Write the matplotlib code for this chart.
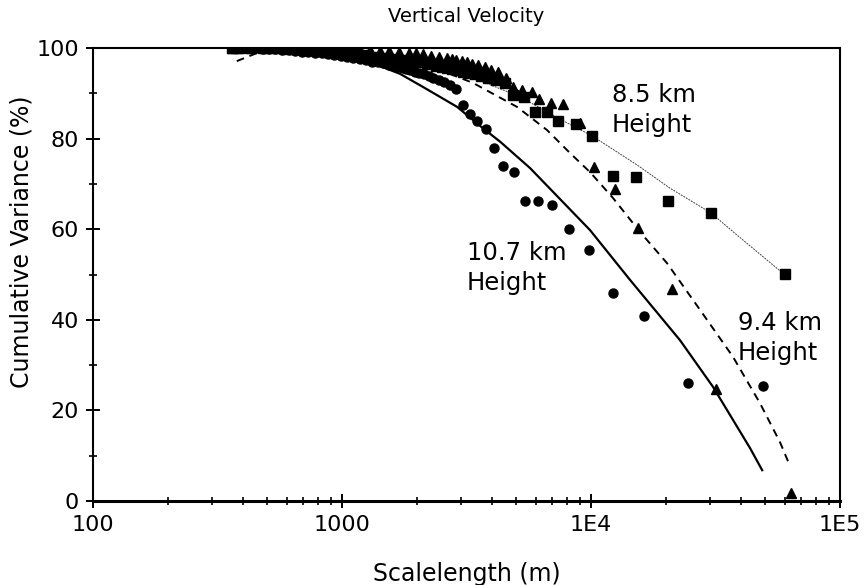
import numpy as np
import matplotlib as mpl
import matplotlib.pyplot as plt
from matplotlib.ticker import FixedLocator, NullFormatter

mpl.rcParams.update({
    "font.family": "DejaVu Sans",
    "font.size": 16,
})

# ----------------------------
# Measured cumulative variance, vertical velocity
# ----------------------------
# 10.7 km height (circles)
len_107 = [49000, 24500, 16300, 12250, 9800, 8170, 7000, 6130, 5440, 4900,
           4450, 4080, 3770, 3500, 3270, 3060, 2880, 2720, 2580, 2450,
           2330, 2230, 2130, 2040, 1960, 1880, 1810, 1750, 1690, 1630,
           1540, 1460, 1390, 1320, 1250, 1180, 1110, 1050, 990, 930,
           880, 830, 780, 730, 690, 650, 610, 575, 540, 510,
           480, 450, 425, 400, 380, 360]
var_107 = [25.4, 26.0, 40.8, 45.9, 55.4, 60.0, 65.3, 66.2, 66.2, 72.6,
           74.0, 77.9, 82.1, 83.9, 85.4, 87.4, 91.0, 91.8, 92.4, 93.0,
           93.4, 93.8, 94.2, 94.5, 94.8, 95.1, 95.4, 95.6, 95.8, 96.0,
           96.3, 96.6, 96.8, 97.0, 97.3, 97.5, 97.8, 98.0, 98.2, 98.4,
           98.6, 98.8, 98.9, 99.1, 99.2, 99.3, 99.5, 99.6, 99.7, 99.8,
           99.8, 99.9, 99.9, 100.0, 100.0, 100.0]

# 9.4 km height (triangles)
len_94 = [63500, 31800, 21100, 15500, 12500, 10300, 9000, 7700, 6900, 6200,
          5770, 5290, 4880, 4540, 4230, 3970, 3740, 3530, 3340, 3180,
          3020, 2880, 2760, 2640, 2450, 2270, 2120, 1980, 1850, 1700,
          1550, 1420, 1300, 1180, 1070, 970, 880, 790, 700, 620,
          550, 490, 430, 380, 360]
var_94 = [1.8, 24.7, 46.8, 60.3, 68.9, 73.7, 83.4, 87.6, 87.9, 88.7,
          90.3, 90.7, 91.4, 93.4, 94.7, 95.1, 95.8, 96.2, 96.5, 96.8,
          97.1, 97.3, 97.5, 97.7, 98.0, 98.3, 98.6, 98.8, 99.0, 99.2,
          99.3, 99.4, 99.5, 99.6, 99.7, 99.8, 99.9, 99.9, 100.0, 100.0,
          100.0, 100.0, 100.0, 100.0, 100.0]

# 8.5 km height (squares)
len_85 = [60100, 30300, 20300, 15200, 12200, 10100, 8700, 7400, 6650, 5950,
          5400, 4870, 4500, 4150, 3870, 3630, 3420, 3230, 3060, 2900,
          2760, 2630, 2510, 2390, 2200, 2040, 1890, 1760, 1650, 1500,
          1370, 1250, 1150, 1050, 960, 880, 800, 720, 650, 590,
          530, 480, 430, 390, 360]
var_85 = [50.1, 63.6, 66.2, 71.5, 71.7, 80.6, 83.2, 83.9, 85.9, 85.9,
          89.2, 89.6, 92.3, 92.9, 93.4, 93.8, 94.2, 94.5, 94.8, 95.1,
          95.3, 95.6, 95.8, 96.0, 96.4, 96.8, 97.1, 97.4, 97.6, 97.8,
          98.1, 98.4, 98.6, 98.8, 99.0, 99.2, 99.4, 99.6, 99.7, 99.8,
          99.9, 99.9, 100.0, 100.0, 100.0]

# ----------------------------
# Fitted curves
# ----------------------------
fit_len_107 = [361, 680, 1390, 1710, 2115, 2900, 3680, 4320, 5690, 9910,
               14350, 22770, 30900, 43500, 48700]
fit_var_107 = [100.0, 99.0, 96.2, 94.3, 91.4, 87.0, 82.3, 79.3, 73.5, 59.8,
               48.8, 35.5, 25.2, 11.7, 6.8]

fit_len_94 = [378, 456, 677, 1420, 2256, 3357, 5045, 6655, 8240, 9910,
              12250, 15730, 20200, 27400, 37200, 47700, 57400, 63000]
fit_var_94 = [97.1, 98.9, 99.8, 98.5, 96.0, 92.3, 87.0, 81.9, 76.8, 72.6,
              66.9, 59.4, 52.5, 42.2, 31.8, 21.6, 13.0, 7.7]

fit_len_85 = [360, 700, 1400, 2700, 5200, 7500, 10100, 15300, 20700, 30300,
              38600, 60100]
fit_var_85 = [100.0, 99.8, 98.6, 95.5, 89.2, 84.3, 80.6, 74.2, 69.1, 63.6,
              58.7, 49.9]

# ----------------------------
# Figure
# ----------------------------
fig = plt.figure(figsize=(8.65, 5.85), dpi=100)
ax = fig.add_axes([93 / 865, 84 / 585, 747 / 865, 453 / 585])

ax.plot(fit_len_107, fit_var_107, color="black", lw=1.6)
ax.plot(fit_len_94, fit_var_94, color="black", lw=1.4, ls=(0, (4, 3)))
ax.plot(fit_len_85, fit_var_85, color="#444444", lw=0.7, ls=(0, (2, 1)))

ax.plot(len_85, var_85, ls="none", marker="s", ms=6.5, color="black")
ax.plot(len_94, var_94, ls="none", marker="^", ms=7, color="black")
ax.plot(len_107, var_107, ls="none", marker="o", ms=6.5, color="black")

ax.set_xscale("log")
ax.set_xlim(100, 1e5)
ax.set_ylim(0, 100)

ax.xaxis.set_major_locator(FixedLocator([100, 1000, 1e4, 1e5]))
ax.set_xticklabels(["100", "1000", "1E4", "1E5"])
minor_x = [m * d for d in (100, 1000, 10000) for m in range(2, 10)]
ax.xaxis.set_minor_locator(FixedLocator(minor_x))
ax.xaxis.set_minor_formatter(NullFormatter())

ax.set_yticks([0, 20, 40, 60, 80, 100])
ax.yaxis.set_minor_locator(FixedLocator([10, 30, 50, 70, 90]))

ax.tick_params(which="major", direction="inout", length=10, width=1.4,
               labelsize=16, pad=5, top=False, right=False)
ax.tick_params(which="minor", direction="inout", length=6, width=1.2,
               top=False, right=False)

for side in ("left", "right", "top"):
    ax.spines[side].set_linewidth(1.5)
ax.spines["bottom"].set_linewidth(2.2)

ax.set_title("Vertical Velocity", fontsize=14, pad=19)
ax.set_xlabel("Scalelength (m)", fontsize=17, va="top")
ax.xaxis.set_label_coords(0.5, -0.134)
ax.set_ylabel("Cumulative Variance (%)", fontsize=17)
ax.yaxis.set_label_coords(-0.08, 0.572)

# curve labels
label_kw = dict(fontsize=17.5, linespacing=1.3, va="center", ha="left")
ax.text(12100, 86.3, "8.5 km\nHeight", **label_kw)
ax.text(3175, 51.5, "10.7 km\nHeight", **label_kw)
ax.text(38900, 36.0, "9.4 km\nHeight", **label_kw)

fig.savefig("out.png", dpi=100)
